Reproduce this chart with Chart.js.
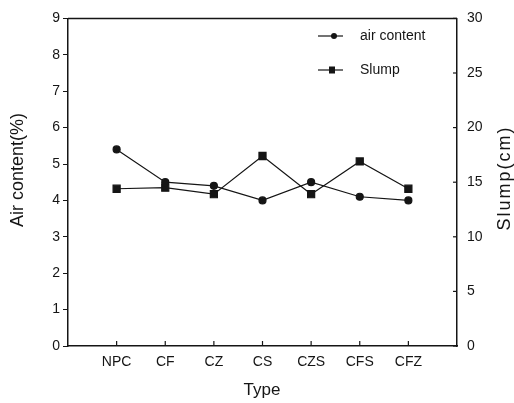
<!DOCTYPE html>
<html>
<head>
<meta charset="utf-8">
<script src="https://cdn.jsdelivr.net/npm/chart.js@4/dist/chart.umd.min.js"></script>
<style>
  html, body { margin: 0; padding: 0; background: #fff; }
  #wrap { width: 514px; height: 403px; }
</style>
</head>
<body>
<div id="wrap"><canvas id="myChart" width="514" height="403"></canvas></div>
<script>
// values
const categories = ["NPC", "CF", "CZ", "CS", "CZS", "CFS", "CFZ"];
const airContent = [5.4, 4.5, 4.4, 4.0, 4.5, 4.1, 4.0];   // %
const slump = [14.4, 14.5, 13.9, 17.4, 13.9, 16.9, 14.4]; // cm
const airTicks = [0, 1, 2, 3, 4, 5, 6, 7, 8, 9];
const slumpTicks = [0, 5, 10, 15, 20, 25, 30];

const ink = "#151515";
const tickFont = { family: "'Liberation Sans', Arial, sans-serif", size: 14 };

// extra drawing: box top, inward ticks, axis titles, legend
const decor = {
  id: "decor",
  afterDraw(chart) {
    const ctx = chart.ctx;
    const a = chart.chartArea;
    const x = chart.scales.x, y2 = chart.scales.y2;
    ctx.save();
    ctx.strokeStyle = ink;
    ctx.lineWidth = 1.5;
    ctx.beginPath();
    ctx.moveTo(a.left, a.top);
    ctx.lineTo(a.right, a.top);
    ctx.stroke();
    ctx.lineWidth = 1.2;
    slumpTicks.forEach(v => {
      const py = y2.getPixelForValue(v);
      ctx.beginPath();
      ctx.moveTo(a.right - 4, py);
      ctx.lineTo(a.right, py);
      ctx.stroke();
    });
    categories.forEach((c, i) => {
      const px = x.getPixelForValue(i + 1);
      ctx.beginPath();
      ctx.moveTo(px, a.bottom - 5);
      ctx.lineTo(px, a.bottom);
      ctx.stroke();
    });

    ctx.fillStyle = ink;
    ctx.font = "17px 'Liberation Sans', Arial, sans-serif";
    ctx.textAlign = "center";
    ctx.textBaseline = "middle";
    ctx.fillText("Type", 262, 390);
    ctx.save();
    ctx.font = "18px 'Liberation Sans', Arial, sans-serif";
    ctx.translate(18, 170);
    ctx.rotate(-Math.PI / 2);
    ctx.fillText("Air content(%)", 0, 0);
    ctx.restore();
    ctx.save();
    ctx.font = "18px 'Liberation Sans', Arial, sans-serif";
    ctx.letterSpacing = "2px";
    ctx.translate(505, 178);
    ctx.rotate(-Math.PI / 2);
    ctx.fillText("Slump(cm)", 0, 0);
    ctx.restore();

    // legend
    const items = chart.data.datasets;
    ctx.font = "14px 'Liberation Sans', Arial, sans-serif";
    ctx.textAlign = "left";
    items.forEach((ds, i) => {
      const ly = 36 + i * 34;
      ctx.lineWidth = 1.2;
      ctx.beginPath();
      ctx.moveTo(318, ly);
      ctx.lineTo(343, ly);
      ctx.stroke();
      if (ds.pointStyle === "rect") {
        ctx.fillRect(329, ly - 3.5, 6, 7);
      } else {
        ctx.beginPath();
        ctx.arc(334, ly, 3, 0, Math.PI * 2);
        ctx.fill();
      }
      ctx.fillText(ds.label, 360, ly);
    });
    ctx.restore();
  }
};

const ctx = document.getElementById("myChart").getContext("2d");
new Chart(ctx, {
  type: "line",
  data: {
    datasets: [
      {
        label: "air content",
        data: airContent.map((v, i) => ({ x: i + 1, y: v })),
        yAxisID: "y",
        borderColor: ink,
        backgroundColor: ink,
        borderWidth: 1.2,
        pointStyle: "circle",
        pointRadius: 3.5,
        tension: 0
      },
      {
        label: "Slump",
        data: slump.map((v, i) => ({ x: i + 1, y: v })),
        yAxisID: "y2",
        borderColor: ink,
        backgroundColor: ink,
        borderWidth: 1.2,
        pointStyle: "rect",
        pointRadius: 5,
        tension: 0
      }
    ]
  },
  options: {
    responsive: false,
    animation: false,
    layout: { padding: { top: 11, left: 0, right: 0, bottom: 0 } },
    plugins: { legend: { display: false }, tooltip: { enabled: false } },
    scales: {
      x: {
        type: "linear",
        min: 0,
        max: 8,
        afterBuildTicks: s => { s.ticks = categories.map((c, i) => ({ value: i + 1 })); },
        ticks: {
          callback: v => categories[v - 1] || "",
          color: ink,
          font: tickFont,
          padding: 8,
          maxRotation: 0
        },
        grid: { display: true, drawOnChartArea: false, drawTicks: false },
        border: { color: ink, width: 1.5 },
        afterFit: s => { s.height = 57; }
      },
      y: {
        position: "left",
        min: 0,
        max: 9,
        afterBuildTicks: s => { s.ticks = airTicks.map(v => ({ value: v })); },
        ticks: { color: ink, font: tickFont, padding: 3 },
        grid: { drawOnChartArea: false, drawTicks: true, tickLength: 5, color: ink },
        border: { color: ink, width: 1.5 },
        afterFit: s => { s.width = 68; }
      },
      y2: {
        position: "right",
        min: 0,
        max: 30,
        afterBuildTicks: s => { s.ticks = slumpTicks.map(v => ({ value: v })); },
        ticks: { color: ink, font: tickFont, padding: 10 },
        grid: { drawOnChartArea: false, drawTicks: false },
        border: { color: ink, width: 1.5 },
        afterFit: s => { s.width = 57; }
      }
    }
  },
  plugins: [decor]
});
</script>
</body>
</html>
